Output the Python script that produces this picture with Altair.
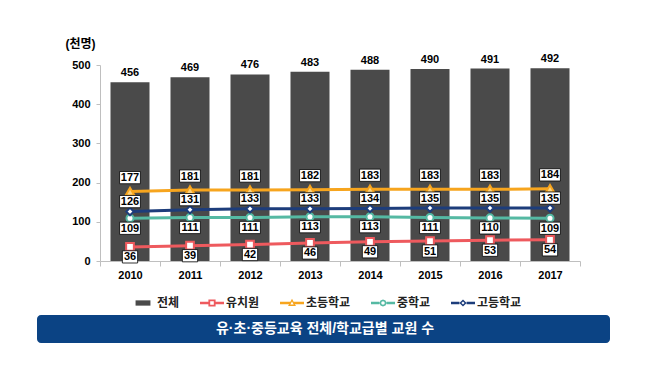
import altair as alt
import pandas as pd

# ---- data ----
years = ["2010", "2011", "2012", "2013", "2014", "2015", "2016", "2017"]
total = [456, 469, 476, 483, 488, 490, 491, 492]
kinder = [36, 39, 42, 46, 49, 51, 53, 54]
elem = [177, 181, 181, 182, 183, 183, 183, 184]
middle = [109, 111, 111, 113, 113, 111, 110, 109]
high = [126, 131, 133, 133, 134, 135, 135, 135]

series_names = ["전체", "유치원", "초등학교", "중학교", "고등학교"]
series_colors = ["#4a4a4a", "#ee5a5e", "#f7a51e", "#55b9a3", "#1d3d7b"]
unit_label = "(천명)"
banner_title = "유·초·중등교육 전체/학교급별 교원 수"

FONT = "Liberation Sans, Noto Sans CJK KR"

bar_df = pd.DataFrame({"year": years, "value": total, "series": "전체"})
line_series = {"유치원": kinder, "초등학교": elem, "중학교": middle, "고등학교": high}
line_df = pd.DataFrame(
    [{"year": y, "value": v, "series": s} for s, vals in line_series.items() for y, v in zip(years, vals)]
)

color_scale = alt.Scale(domain=series_names, range=series_colors)

# legend symbol paths (line + hollow marker)
LINES = "M-1,-0.11H-0.3V0.11H-1Z M0.3,-0.11H1V0.11H0.3Z "
legend_paths = [
    "M-0.62,-0.22H0.62V0.22H-0.62Z",
    LINES + "M-0.3,-0.3H0.3V0.3H-0.3Z M-0.15,-0.15V0.15H0.15V-0.15Z",
    "M-1,-0.11H-0.15V0.11H-1Z M0.15,-0.11H1V0.11H0.15Z M0,-0.36L0.33,0.24H-0.33Z M0,-0.12L-0.14,0.12H0.14Z",
    LINES + "M0.3,0L0.21,0.21L0,0.3L-0.21,0.21L-0.3,0L-0.21,-0.21L0,-0.3L0.21,-0.21Z "
            "M0.15,0L0.11,-0.11L0,-0.15L-0.11,-0.11L-0.15,0L-0.11,0.11L0,0.15L0.11,0.11Z",
    LINES + "M0,-0.3L0.3,0L0,0.3L-0.3,0Z M0,-0.13L-0.13,0L0,0.13L0.13,0Z",
]

x_enc = alt.X(
    "year:N",
    sort=years,
    scale=alt.Scale(paddingInner=0, paddingOuter=0),
    axis=alt.Axis(
        title=None, labelAngle=0, labelFont=FONT, labelFontSize=11, labelFontWeight="bold",
        labelColor="#000000", tickBand="extent", tickSize=5, tickColor="#bfbfbf",
        domainColor="#bfbfbf", labelPadding=3, grid=False,
    ),
)
y_enc = alt.Y(
    "value:Q",
    scale=alt.Scale(domain=[0, 500]),
    axis=alt.Axis(
        values=[0, 100, 200, 300, 400, 500], title=unit_label, titleAngle=0, titleX=-20, titleY=-22,
        titleAlign="center", titleBaseline="middle", titleFont=FONT, titleFontSize=12,
        titleFontWeight="bold", titleColor="#000000", labelFont=FONT, labelFontSize=11,
        labelFontWeight="bold", labelColor="#000000", tickSize=4, tickColor="#bfbfbf",
        domainColor="#bfbfbf", labelPadding=6, grid=False,
    ),
)

legend_layer = (
    alt.Chart(line_df)
    .transform_filter("false")
    .mark_point(filled=True, opacity=1, size=576)
    .encode(
        x=x_enc,
        y=y_enc,
        color=alt.Color(
            "series:N", scale=color_scale,
            legend=alt.Legend(
                title=None, orient="none", legendX=31, legendY=226, direction="horizontal",
                symbolSize=576, symbolStrokeWidth=0, symbolOpacity=1, labelFont=FONT,
                labelFontSize=12, labelFontWeight="bold", labelColor="#222222",
                labelOffset=2, columnPadding=20,
            ),
        ),
        shape=alt.Shape("series:N", scale=alt.Scale(domain=series_names, range=legend_paths)),
    )
)

bars = (
    alt.Chart(bar_df)
    .mark_bar(size=39)
    .encode(x=x_enc, y=y_enc, color=alt.Color("series:N", scale=color_scale, legend=None))
)
bar_labels = (
    alt.Chart(bar_df)
    .mark_text(font=FONT, fontSize=11, fontWeight="bold", color="#000000", baseline="middle", yOffset=-9)
    .encode(x=x_enc, y=y_enc, text="value:Q")
)

lines = (
    alt.Chart(line_df)
    .mark_line(strokeWidth=3)
    .encode(x=x_enc, y=y_enc, color=alt.Color("series:N", scale=color_scale, legend=None),
            detail="series:N")
)

marker_styles = {
    "유치원": dict(shape="square", size=60, fill="#ffffff", stroke="#ee5a5e", strokeWidth=2),
    "초등학교": dict(shape="triangle-up", size=80, fill="#fcd27c", stroke="#f7a51e", strokeWidth=2),
    "중학교": dict(shape="circle", size=50, fill="#ffffff", stroke="#55b9a3", strokeWidth=2),
    "고등학교": dict(shape="diamond", size=55, fill="#ffffff", stroke="#1d3d7b", strokeWidth=2),
}
label_offsets = {"유치원": 10, "초등학교": -14, "중학교": 10, "고등학교": -10}
BOX3 = "M-1.7,-1H1.7V1H-1.7Z"
BOX2 = "M-1.25,-1H1.25V1H-1.25Z"

layers = [bars, bar_labels, lines]
for s in line_series:
    sub = alt.Chart(line_df).transform_filter(alt.datum.series == s)
    st = marker_styles[s]
    layers.append(
        sub.mark_point(filled=False, opacity=1, **st).encode(x=x_enc, y=y_enc)
    )
for s in line_series:
    sub = alt.Chart(line_df).transform_filter(alt.datum.series == s)
    off = label_offsets[s]
    box = BOX2 if s == "유치원" else BOX3
    layers.append(
        sub.mark_point(shape=box, size=150, fill="#ffffff", stroke="#000000", strokeWidth=0.8,
                       opacity=1, filled=False, yOffset=off).encode(x=x_enc, y=y_enc)
    )
    layers.append(
        sub.mark_text(font=FONT, fontSize=11, fontWeight="bold", color="#000000",
                      baseline="middle", yOffset=off + 0.5).encode(x=x_enc, y=y_enc, text="value:Q")
    )

banner_df = pd.DataFrame({"t": [banner_title]})
banner = (
    alt.Chart(banner_df)
    .mark_rect(cornerRadius=4, color="#0b4384")
    .encode(x=alt.value(-63), x2=alt.value(510), y=alt.value(250), y2=alt.value(278))
)
banner_text = (
    alt.Chart(banner_df)
    .mark_text(font=FONT, fontSize=14, fontWeight="bold", color="#ffffff", baseline="middle", align="center")
    .encode(x=alt.value(225), y=alt.value(264), text="t:N")
)

chart = (
    alt.layer(legend_layer, *layers, banner, banner_text)
    .properties(
        width=480, height=196,
        autosize=alt.AutoSizeParams(type="none"),
        padding={"left": 92, "top": 57, "right": 62, "bottom": 109},
        background="#ffffff",
    )
    .configure_view(stroke=None)
)

chart.save("out.html", embed_options={"renderer": "svg", "actions": False})
